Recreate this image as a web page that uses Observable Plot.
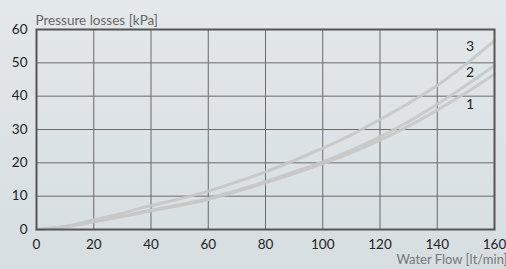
<!DOCTYPE html>
<html>
<head>
<meta charset="utf-8">
<script src="https://cdn.jsdelivr.net/npm/d3@7"></script>
<script src="https://cdn.jsdelivr.net/npm/@observablehq/plot@0.6"></script>
<style>
  html, body { margin: 0; padding: 0; }
  body {
    width: 506px; height: 269px; overflow: hidden;
    background: linear-gradient(#e3e8ea, #d6dee1);
    font-family: Lato, "Open Sans", sans-serif;
  }
  #chart svg { display: block; background: transparent; }
</style>
</head>
<body>
<div id="chart"></div>
<script>
const flow = [0, 10, 20, 30, 40, 50, 60, 70, 80, 90, 100, 110, 120, 130, 140, 150, 160];
const curve1 = [0, 0.8, 2.3, 3.9, 5.6, 7.2, 9.0, 11.4, 14.0, 16.8, 19.8, 23.0, 26.8, 31.0, 35.8, 41.0, 46.6];
const curve2 = [0, 0.8, 2.4, 4.0, 5.8, 7.4, 9.3, 11.7, 14.4, 17.3, 20.3, 23.8, 27.8, 32.4, 37.6, 43.2, 49.2];
const curve3 = [0, 0.9, 2.9, 4.9, 7.2, 9.2, 11.5, 14.3, 17.3, 20.7, 24.4, 28.4, 33.0, 37.9, 43.2, 49.6, 56.7];
const seriesNames = ["1", "2", "3"];
const xTicks = [0, 20, 40, 60, 80, 100, 120, 140, 160];
const yTicks = [0, 10, 20, 30, 40, 50, 60];
const yTitle = "Pressure losses [kPa]";
const xTitle = "Water Flow [lt/min]";

const series = [curve1, curve2, curve3];
const rows = [];
series.forEach((vals, i) => vals.forEach((v, j) => rows.push({series: seriesNames[i], q: flow[j], p: v})));

// label anchors (data units, placed near line ends)
const labelAnchors = [
  {text: "1", q: 151.5, p: 37.5},
  {text: "2", q: 151.5, p: 47},
  {text: "3", q: 151.5, p: 55}
];

const plot = Plot.plot({
  width: 506,
  height: 269,
  marginLeft: 36,
  marginRight: 12,
  marginTop: 29,
  marginBottom: 40,
  style: {fontFamily: "Lato, 'Open Sans', sans-serif", fontSize: "13.5px", color: "#222", background: "transparent", overflow: "visible"},
  x: {domain: [0, 160]},
  y: {domain: [0, 60]},
  marks: [
    Plot.gridX(xTicks, {stroke: "#6a6a6a", strokeOpacity: 1, strokeWidth: 1}),
    Plot.gridY(yTicks, {stroke: "#6a6a6a", strokeOpacity: 1, strokeWidth: 1}),
    Plot.line(rows, {x: "q", y: "p", z: "series", stroke: "#c6c6c6", strokeWidth: 3, strokeOpacity: 0.9, curve: "monotone-x"}),
    Plot.frame({stroke: "#555", strokeWidth: 2}),
    Plot.axisX(xTicks, {tickSize: 0, tickPadding: 10, label: null, fill: "#222"}),
    Plot.axisY(yTicks, {tickSize: 0, tickPadding: 9, label: null, fill: "#222"}),
    Plot.text(labelAnchors, {x: "q", y: "p", text: "text", fill: "#222", fontSize: 14, textAnchor: "middle"}),
    Plot.text([yTitle], {frameAnchor: "top-left", dx: -1, dy: -14, text: d => d, fill: "#666", fontSize: 13.5, textAnchor: "start"}),
    Plot.text([xTitle], {frameAnchor: "bottom-right", dx: 13, dy: 34, text: d => d, fill: "#777", fontSize: 13, textAnchor: "end"})
  ]
});
document.getElementById("chart").append(plot);
</script>
</body>
</html>
